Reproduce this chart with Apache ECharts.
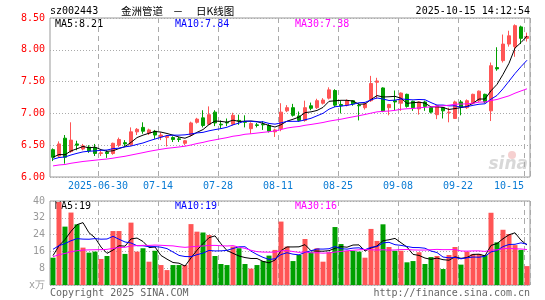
<!DOCTYPE html>
<html>
<head>
<meta charset="utf-8">
<script src="https://cdn.jsdelivr.net/npm/echarts@6/dist/echarts.min.js"></script>
<style>
  html, body { margin: 0; padding: 0; background: #fff; }
  #chart { width: 545px; height: 300px; }
</style>
</head>
<body>
<div id="chart"></div>
<script>
const dates = [
  '2025-06-18','2025-06-19','2025-06-20','2025-06-23','2025-06-24','2025-06-25','2025-06-26','2025-06-27','2025-06-30',
  '2025-07-01','2025-07-02','2025-07-03','2025-07-04','2025-07-07','2025-07-08','2025-07-09','2025-07-10','2025-07-11',
  '2025-07-14','2025-07-15','2025-07-16','2025-07-17','2025-07-18','2025-07-21','2025-07-22','2025-07-23','2025-07-24',
  '2025-07-25','2025-07-28','2025-07-29','2025-07-30','2025-07-31','2025-08-01','2025-08-04','2025-08-05','2025-08-06',
  '2025-08-07','2025-08-08','2025-08-11','2025-08-12','2025-08-13','2025-08-14','2025-08-15','2025-08-18','2025-08-19',
  '2025-08-20','2025-08-21','2025-08-22','2025-08-25','2025-08-26','2025-08-27','2025-08-28','2025-08-29','2025-09-01',
  '2025-09-02','2025-09-03','2025-09-04','2025-09-05','2025-09-08','2025-09-09','2025-09-10','2025-09-11','2025-09-12',
  '2025-09-15','2025-09-16','2025-09-17','2025-09-18','2025-09-19','2025-09-22','2025-09-23','2025-09-24','2025-09-25',
  '2025-09-26','2025-09-29','2025-09-30','2025-10-09','2025-10-10','2025-10-13','2025-10-14','2025-10-15'
];

const opens = [
  6.43,6.33,6.61,6.40,6.52,6.44,6.47,6.46,6.37,6.39,
  6.37,6.50,6.54,6.51,6.71,6.78,6.69,6.72,6.63,6.62,
  6.62,6.60,6.53,6.66,6.86,6.93,6.83,7.02,6.83,6.86,
  6.83,6.89,6.87,6.76,6.82,6.83,6.81,6.71,6.76,7.04,
  7.09,6.96,6.89,7.12,7.09,7.16,7.24,7.36,7.14,7.13,
  7.20,7.13,7.09,7.20,7.49,7.40,7.09,7.20,7.16,7.30,
  7.19,7.07,7.18,7.09,6.98,7.09,7.01,6.92,7.18,7.09,
  7.16,7.20,7.30,7.04,7.72,7.83,8.09,8.05,8.36,8.18
];
const closes = [
  6.31,6.52,6.31,6.58,6.50,6.49,6.41,6.37,6.38,6.37,
  6.53,6.59,6.52,6.71,6.75,6.72,6.74,6.66,6.66,6.64,
  6.59,6.59,6.57,6.85,6.91,6.81,6.98,6.85,6.82,6.85,
  6.97,6.88,6.86,6.84,6.81,6.82,6.72,6.74,7.02,7.09,
  6.97,6.89,7.09,7.08,7.20,7.21,7.37,7.13,7.12,7.20,
  7.15,7.12,7.15,7.47,7.51,7.04,7.14,7.18,7.32,7.11,
  7.09,7.18,7.11,7.02,7.12,7.04,7.02,7.18,7.10,7.20,
  7.30,7.35,7.18,7.75,7.70,8.09,8.22,8.38,8.18,8.21
];
const lows = [
  6.25,6.31,6.21,6.38,6.42,6.42,6.38,6.33,6.33,6.30,
  6.35,6.47,6.48,6.49,6.66,6.68,6.66,6.60,6.58,6.48,
  6.55,6.55,6.50,6.64,6.84,6.78,6.82,6.80,6.76,6.80,
  6.81,6.82,6.78,6.68,6.78,6.74,6.70,6.63,6.72,7.02,
  6.95,6.87,6.87,7.05,7.07,7.14,7.22,7.10,7.00,7.11,
  7.12,6.89,7.06,7.18,7.23,7.02,6.97,7.05,7.04,7.09,
  7.04,6.98,7.04,7.00,6.91,6.92,6.86,6.92,6.97,7.07,
  7.14,7.18,7.16,6.88,7.67,7.80,8.05,7.89,8.09,8.13
];
const highs = [
  6.45,6.56,6.66,6.86,6.57,6.52,6.50,6.52,6.42,6.42,
  6.54,6.62,6.58,6.78,6.77,6.86,6.76,6.74,6.70,6.66,
  6.64,6.63,6.58,6.87,6.93,7.05,7.11,7.05,6.89,6.92,
  7.01,6.98,6.97,6.86,6.85,6.88,6.83,6.76,7.16,7.13,
  7.15,7.03,7.20,7.17,7.23,7.24,7.41,7.38,7.20,7.22,
  7.21,7.16,7.17,7.59,7.56,7.41,7.15,7.36,7.33,7.31,
  7.20,7.19,7.20,7.10,7.13,7.10,7.09,7.20,7.21,7.22,
  7.31,7.36,7.31,7.80,8.04,8.24,8.30,8.40,8.38,8.27
];
// volume, 万手
const volumes = [
  13,39.5,27.8,34.5,28.9,17.8,15.4,15.9,12.4,13.8,
  25.7,25.7,14.8,29.7,15.9,17.5,11.1,16.3,9.5,7.1,
  9.5,9.5,9.5,29,25.4,25,23.8,13.8,10,9.5,
  18.3,17.5,10,7.8,9.5,11.4,14,16.7,30.2,18.3,
  11.4,14.3,21.9,15.6,17.5,11.1,15.6,27.6,19.5,16.2,
  16.3,15.9,13,26.7,21,28.9,18.1,16.3,16.3,10.8,
  11.4,15.6,10,13.3,13.8,7.6,14.3,18.1,9.7,15.9,
  14.8,14.8,14.3,34.4,20.3,26.3,24.3,19,16.7,9
];
// sessions before the window, only used so the MA lines start where they do in the picture
const priorCloses = [
  6.07,6.05,6.03,6.06,6.08,6.10,6.09,6.07,6.11,6.13,6.12,6.10,6.14,6.17,6.15,
  6.13,6.16,6.18,6.20,6.28,6.25,6.22,6.27,6.24,6.26,6.30,6.33,6.28,6.33
];
const priorVolumes = [
  12,10,11,13,9,12,14,11,10,12,13,11,12,10,14,12,11,13,12,13,
  22,18,21,19,20,16,13,15,13
];

const labelIdx = [8, 18, 28, 38, 48, 58, 68, 79];
const priceLegend = ['MA5:8.21', 'MA10:7.84', 'MA30:7.38'];
const volLegend = ['MA5:19', 'MA10:19', 'MA30:16'];

const UP = '#ff5555';
const DOWN = '#00a000';
const mono = '"DejaVu Sans Mono", "Liberation Mono", monospace';
const cjk = '"Noto Sans CJK SC", sans-serif';

const movingAvg = (prior, vals, n) => {
  const all = prior.concat(vals);
  const off = prior.length;
  return vals.map((_, i) => {
    let s = 0;
    for (let k = 0; k < n; k++) s += all[off + i - k];
    return +(s / n).toFixed(3);
  });
};

const candles = opens.map((o, i) => [o, closes[i], lows[i], highs[i]]);
const volBars = volumes.map((v, i) => ({
  value: v,
  itemStyle: { color: closes[i] >= opens[i] ? UP : DOWN }
}));

const maLine = (name, data, color, xi) => ({
  name, type: 'line', xAxisIndex: xi, yAxisIndex: xi, data,
  showSymbol: false, symbol: 'none', silent: true, animation: false,
  lineStyle: { width: 1, color }, itemStyle: { color }
});

const showIdx = (i) => labelIdx.indexOf(i) >= 0;
const gridLineX = { show: true, interval: showIdx, lineStyle: { color: '#aaa', width: 1, type: [5, 4] } };
const gridLineY = { show: true, lineStyle: { color: '#aaa', width: 1, type: [1, 2] } };

const txt = (x, y, text, fill, align, font) => ({
  type: 'text', x, y, silent: true,
  style: { text, fill, align: align || 'left', verticalAlign: 'middle', font: font || ('10px ' + mono) }
});

const chart = echarts.init(document.getElementById('chart'));
chart.setOption({
  animation: false,
  backgroundColor: '#fff',
  grid: [
    { left: 50, top: 18, width: 480, height: 159, show: true, borderColor: '#999', borderWidth: 1 },
    { left: 50, top: 201, width: 480, height: 84, show: true, borderColor: '#999', borderWidth: 1 }
  ],
  xAxis: [
    {
      type: 'category', gridIndex: 0, data: dates, boundaryGap: true,
      axisLine: { show: false }, axisTick: { show: false },
      axisLabel: {
        interval: showIdx, margin: 4,
        formatter: (v, i) => {
          const s = i === 8 ? v : v.slice(5);
          return i === 79 ? '{e|' + s + '}' : '{a|' + s + '}';
        },
        rich: {
          a: { color: '#0a7bd4', fontFamily: mono, fontSize: 10, padding: [0, 6, 0, 0] },
          e: { color: '#0a7bd4', fontFamily: mono, fontSize: 10, padding: [0, 36, 0, 0] }
        }
      },
      splitLine: gridLineX
    },
    {
      type: 'category', gridIndex: 1, data: dates, boundaryGap: true,
      axisLine: { show: false }, axisTick: { show: false }, axisLabel: { show: false },
      splitLine: gridLineX
    }
  ],
  yAxis: [
    {
      type: 'value', gridIndex: 0, min: 6, max: 8.5, interval: 0.5,
      axisLine: { show: false }, axisTick: { show: false },
      axisLabel: { color: '#ff0000', fontFamily: mono, fontSize: 10, margin: 5, formatter: (v) => v.toFixed(2) },
      splitLine: gridLineY
    },
    {
      type: 'value', gridIndex: 1, min: 0, max: 40, interval: 8,
      axisLine: { show: false }, axisTick: { show: false },
      axisLabel: { color: '#999', fontFamily: mono, fontSize: 10, margin: 5, formatter: (v) => (v === 0 ? 'x万' : String(v)) },
      splitLine: gridLineY
    }
  ],
  series: [
    {
      type: 'candlestick', xAxisIndex: 0, yAxisIndex: 0, data: candles, barWidth: 4,
      itemStyle: { color: UP, color0: DOWN, borderColor: UP, borderColor0: DOWN, borderWidth: 1 }
    },
    maLine('MA5', movingAvg(priorCloses, closes, 5), '#000000', 0),
    maLine('MA10', movingAvg(priorCloses, closes, 10), '#0000ff', 0),
    maLine('MA30', movingAvg(priorCloses, closes, 30), '#ff00ff', 0),
    { type: 'bar', xAxisIndex: 1, yAxisIndex: 1, data: volBars, barWidth: 5 },
    maLine('VMA5', movingAvg(priorVolumes, volumes, 5), '#000000', 1),
    maLine('VMA10', movingAvg(priorVolumes, volumes, 10), '#0000ff', 1),
    maLine('VMA30', movingAvg(priorVolumes, volumes, 30), '#ff00ff', 1)
  ],
  graphic: [
    txt(50, 11, 'sz002443', '#000'),
    txt(121, 11, '金洲管道', '#000', 'left', '10.5px ' + cjk),
    txt(178, 11, '－', '#000', 'center', '10.5px ' + cjk),
    txt(196, 11, '日K线图', '#000', 'left', '10.5px ' + cjk),
    txt(530, 11, '2025-10-15 14:12:54', '#000', 'right'),
    txt(55, 24, priceLegend[0], '#000'),
    txt(175, 24, priceLegend[1], '#0000ff'),
    txt(295, 24, priceLegend[2], '#ff00ff'),
    txt(55, 206, volLegend[0], '#000'),
    txt(175, 206, volLegend[1], '#0000ff'),
    txt(295, 206, volLegend[2], '#ff00ff'),
    txt(50, 293, 'Copyright 2025 SINA.COM', '#666'),
    txt(530, 293, 'http://finance.sina.com.cn', '#666', 'right'),
    { type: 'circle', silent: true, shape: { cx: 512, cy: 155, r: 4 }, style: { fill: '#f6d0d0' } },
    txt(528, 165, 'sina', '#d8d8d8', 'right', 'italic bold 17px "DejaVu Sans"')
  ]
});
</script>
</body>
</html>
